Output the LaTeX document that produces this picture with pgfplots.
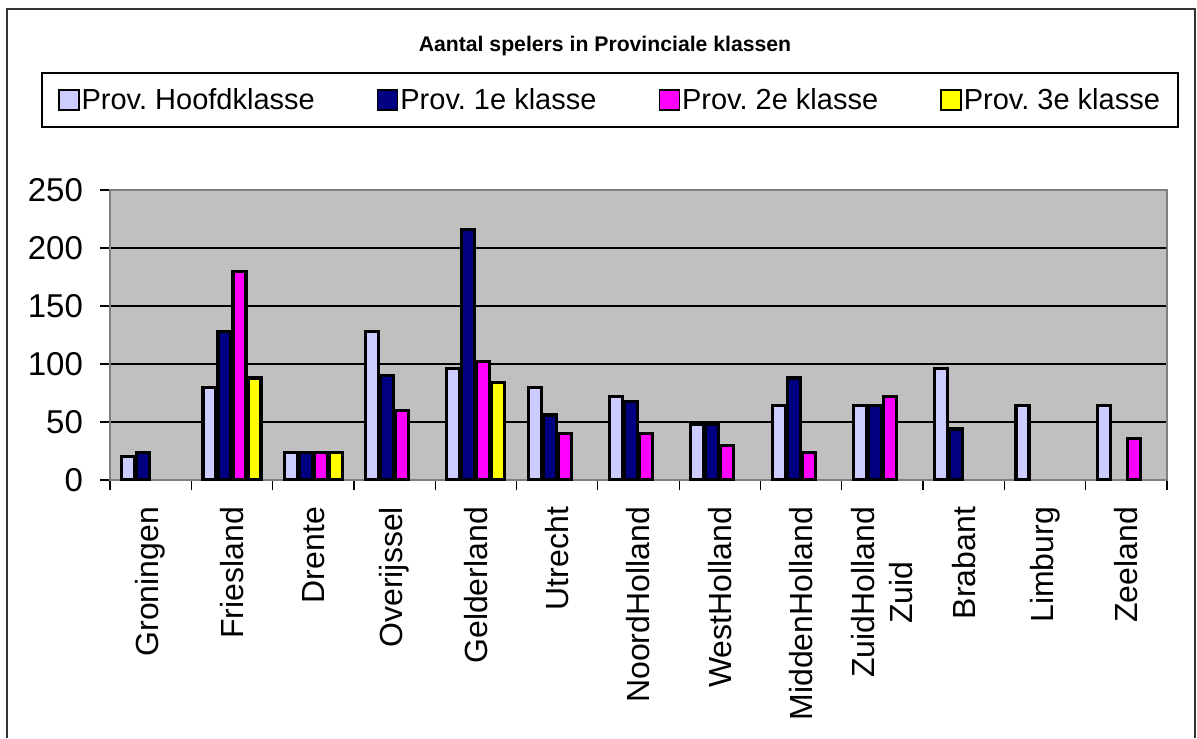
\documentclass[border=0pt]{standalone}
\usepackage{fontspec}
\setmainfont{Liberation Sans}
\usepackage{pgfplots}
\pgfplotsset{compat=1.18}

\definecolor{hk}{RGB}{204,204,255}
\definecolor{ka}{RGB}{0,0,128}
\definecolor{kb}{RGB}{255,0,255}
\definecolor{kc}{RGB}{255,255,0}
\definecolor{plotbg}{RGB}{192,192,192}

\begin{document}
\frenchspacing
\begin{tikzpicture}
\useasboundingbox (0,0) rectangle (598.5pt,369pt);
% outer chart frame
\draw[line width=1pt, black!80] (3.5pt,0) -- (3.5pt,364.5pt) -- (597.5pt,364.5pt) -- (597.5pt,0);
\node[font=\fontsize{10.6}{12}\selectfont\bfseries] at (302.5pt,346pt) {Aantal spelers in Provinciale klassen};

\begin{axis}[
  at={(55pt,129pt)}, anchor=south west,
  scale only axis,
  width=528.5pt, height=145pt,
  ybar=1pt, bar width=6.5pt,
  xmin=-0.5, xmax=12.5,
  ymin=0, ymax=250,
  ytick={0,50,100,150,200,250},
  xtick={-0.5,0.5,...,12.5},
  x tick label as interval,
  xticklabels={Groningen, Friesland, Drente, Overijssel, Gelderland, Utrecht,
    NoordHolland, WestHolland, MiddenHolland, {ZuidHolland\\Zuid}, Brabant, Limburg, Zeeland},
  xtick pos=bottom, ytick pos=left,
  tick align=outside,
  major tick length=5pt,
  tick style={black, line width=0.6pt},
  axis line style={black!50, line width=0.8pt},
  axis background/.style={fill=plotbg},
  ymajorgrids,
  grid style={black, line width=0.6pt},
  /pgf/number format/assume math mode=true,
  yticklabel style={font=\fontsize{16.5}{19}\selectfont, xshift=-5pt},
  xticklabel style={font=\fontsize{16}{19}\selectfont, rotate=90, anchor=east, align=center, xshift=-5pt},
  legend columns=4,
  legend style={at={(0.473,1.3103)}, anchor=center, draw=black, line width=0.8pt,
    font=\fontsize{14.5}{17}\selectfont, inner xsep=8pt, inner ysep=6.5pt,
    nodes={inner sep=1pt},
    /tikz/every even column/.append style={column sep=30pt}},
  legend image code/.code={\draw[#1, line width=0.8pt] (0pt,-5pt) rectangle (10pt,5pt);},
]
\addplot[fill=hk, draw=black, line width=1.6pt] coordinates {(0,20) (1,80) (2,24) (3,128) (4,96) (5,80) (6,72) (7,48) (8,64) (9,64) (10,96) (11,64) (12,64)};
\addplot[fill=ka, draw=black, line width=1.6pt] coordinates {(0,24) (1,128) (2,24) (3,90) (4,216) (5,56) (6,68) (7,48) (8,88) (9,64) (10,44)};
\addplot[fill=kb, draw=black, line width=1.6pt] coordinates {(1,180) (2,24) (3,60) (4,102) (5,40) (6,40) (7,30) (8,24) (9,72) (12,36)};
\addplot[fill=kc, draw=black, line width=1.6pt] coordinates {(1,88) (2,24) (4,84)};
\legend{Prov. Hoofdklasse, Prov. 1e klasse, Prov. 2e klasse, Prov. 3e klasse}
\end{axis}
\end{tikzpicture}
\end{document}
